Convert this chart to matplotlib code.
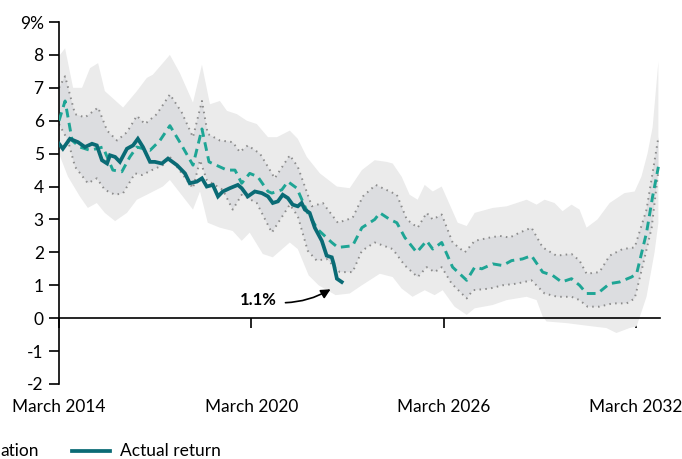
import matplotlib.pyplot as plt
from matplotlib.lines import Line2D
import numpy as np

plt.rcParams['font.family'] = ['Lato', 'DejaVu Sans']

START = 2014 + 2 / 12  # March 2014

# years after March 2014 / return in %
outer_hi_t = [0, 0.03, 0.19, 0.44, 0.72, 0.97, 1.22, 1.43, 2.0, 2.43, 2.74, 2.93, 3.46, 3.77, 4.18, 4.46, 4.71,
              5.02, 5.24, 5.55, 5.86, 6.17, 6.52, 6.8, 7.2, 7.45, 7.73, 8.14, 8.67, 9.07, 9.45, 9.85, 10.22,
              10.41, 10.69, 10.94, 11.19, 11.41, 11.66, 11.94, 12.44, 12.72, 12.97, 13.53, 13.97, 14.28, 14.59,
              14.9, 15.15, 15.46, 15.71, 15.99, 16.24, 16.46, 16.8, 17.18, 17.64, 17.96, 18.17, 18.36, 18.52, 18.7]
outer_hi = [7.9, 8.0, 8.2, 7.0, 7.0, 7.6, 7.75, 6.9, 6.4, 6.9, 7.3, 7.4, 8.0, 7.45, 6.55, 7.7, 6.5,
            6.6, 6.3, 6.2, 6.0, 5.9, 5.5, 5.5, 5.7, 5.45, 4.9, 4.4, 4.0, 3.95, 4.5, 4.8, 4.75,
            4.7, 4.3, 3.75, 3.6, 4.05, 3.85, 4.0, 2.9, 2.8, 3.2, 3.35, 3.4, 3.5, 3.6,
            3.45, 3.6, 3.5, 3.25, 3.45, 3.3, 2.75, 3.0, 3.5, 3.8, 3.85, 4.3, 5.0, 5.8, 7.8]

outer_lo_t = [0, 0.28, 0.65, 0.9, 1.18, 1.43, 1.75, 2.12, 2.43, 2.74, 3.24, 3.46, 4.18, 4.4, 4.64, 5.02, 5.42,
              5.7, 5.95, 6.36, 6.67, 7.2, 7.45, 7.79, 8.1, 8.63, 9.07, 9.45, 9.85, 10.01, 10.41, 10.69, 11.03,
              11.41, 11.72, 11.97, 12.34, 12.72, 12.97, 13.53, 13.97, 14.59, 14.9, 15.09, 15.21, 15.84, 16.24,
              16.65, 17.08, 17.39, 17.8, 18.02, 18.33, 18.58, 18.7]
outer_lo = [5.0, 4.3, 3.7, 3.35, 3.5, 3.2, 2.95, 3.2, 3.6, 3.75, 4.0, 4.2, 3.3, 3.85, 2.9, 2.75, 2.65,
            2.35, 2.6, 1.95, 1.85, 2.3, 2.1, 1.3, 1.0, 0.7, 0.75, 1.0, 1.25, 1.35, 1.25, 0.9, 0.65,
            0.85, 0.7, 0.85, 0.35, 0.1, 0.3, 0.4, 0.55, 0.65, 0.55, 0.05, -0.1, -0.15, -0.2,
            -0.25, -0.3, -0.45, -0.3, -0.25, 0.65, 2.0, 2.9]

inner_hi_t = [0, 0.19, 0.5, 0.81, 1.22, 1.5, 1.81, 2.12, 2.43, 2.68, 3.05, 3.46, 3.83, 4.18, 4.46, 4.64, 5.02,
              5.42, 5.64, 5.89, 6.27, 6.58, 6.73, 7.2, 7.45, 7.89, 8.23, 8.7, 9.16, 9.48, 9.88, 10.32, 10.54,
              10.85, 11.19, 11.47, 11.66, 11.94, 12.28, 12.66, 12.97, 13.44, 13.75, 14.06, 14.37, 14.74, 15.09,
              15.52, 15.99, 16.24, 16.46, 16.86, 17.18, 17.58, 17.96, 18.33, 18.55, 18.7]
inner_hi = [7.0, 7.35, 6.2, 6.1, 6.4, 5.7, 5.4, 5.65, 6.15, 5.9, 6.2, 6.8, 6.25, 5.5, 6.6, 5.6, 5.4,
            5.35, 5.05, 5.25, 5.0, 4.5, 4.25, 4.95, 4.6, 3.4, 3.5, 2.9, 3.05, 3.7, 4.05, 3.85, 3.75,
            3.0, 2.75, 3.2, 3.0, 3.15, 2.3, 2.0, 2.35, 2.45, 2.5, 2.45, 2.6, 2.75, 2.15,
            1.9, 1.95, 1.75, 1.35, 1.4, 1.9, 2.1, 2.15, 3.3, 4.6, 5.5]

inner_lo_t = [0, 0.28, 0.5, 0.9, 1.18, 1.43, 1.75, 2.0, 2.37, 2.59, 2.9, 3.24, 3.46, 3.83, 4.18, 4.4, 4.61,
              5.11, 5.42, 5.7, 6.17, 6.64, 7.2, 7.45, 7.76, 8.04, 8.35, 8.76, 9.16, 9.45, 9.85, 10.41, 10.79,
              11.19, 11.47, 11.72, 11.94, 12.25, 12.72, 12.91, 13.44, 13.84, 14.28, 14.74, 15.15, 15.55, 15.99,
              16.24, 16.49, 16.86, 17.27, 17.71, 17.96, 18.2, 18.49, 18.7]
inner_lo = [5.9, 5.4, 4.6, 4.1, 4.25, 3.9, 3.75, 3.8, 4.4, 4.35, 4.5, 4.65, 4.9, 4.4, 3.95, 4.8, 4.2,
            3.9, 3.3, 3.75, 3.5, 2.6, 3.45, 3.1, 2.05, 1.75, 1.8, 1.4, 1.4, 2.05, 2.3, 2.1, 1.6,
            1.25, 1.55, 1.4, 1.55, 1.05, 0.6, 0.85, 0.9, 1.0, 1.05, 1.15, 0.75, 0.65, 0.65,
            0.55, 0.35, 0.35, 0.45, 0.45, 0.6, 1.55, 2.75, 4.5]

median_t = [0, 0.19, 0.41, 0.65, 0.97, 1.37, 1.68, 1.96, 2.21, 2.43, 2.84, 3.15, 3.46, 3.8, 4.18, 4.46, 4.68,
            5.24, 5.49, 5.7, 5.95, 6.2, 6.52, 6.64, 6.95, 7.14, 7.42, 7.76, 8.07, 8.51, 8.7, 9.16, 9.45,
            9.85, 10.01, 10.32, 10.54, 10.79, 11.16, 11.47, 11.66, 11.94, 12.28, 12.72, 12.97, 13.19, 13.53,
            13.84, 14.12, 14.46, 14.74, 15.09, 15.4, 15.68, 15.99, 16.24, 16.46, 16.8, 17.18, 17.49, 17.86,
            18.02, 18.33, 18.52, 18.7]
median = [6.0, 6.6, 5.4, 5.2, 5.1, 5.2, 4.5, 4.45, 4.9, 5.2, 5.1, 5.4, 5.85, 5.3, 4.65, 5.75, 4.75,
          4.5, 4.5, 4.1, 4.4, 4.3, 3.85, 3.8, 3.9, 4.15, 3.95, 3.2, 2.7, 2.3, 2.15, 2.2, 2.75,
          3.0, 3.2, 3.0, 2.9, 2.45, 2.0, 2.35, 2.1, 2.3, 1.55, 1.15, 1.55, 1.5, 1.65,
          1.6, 1.75, 1.8, 1.9, 1.4, 1.3, 1.1, 1.2, 1.0, 0.75, 0.75, 1.05, 1.1, 1.25,
          1.35, 2.6, 3.7, 4.6]

actual_t = [0, 0.12, 0.34, 0.59, 0.81, 1.03, 1.18, 1.34, 1.5, 1.59, 1.75, 1.9, 2.12, 2.31, 2.46, 2.62, 2.84,
            2.99, 3.21, 3.4, 3.68, 3.93, 4.08, 4.3, 4.46, 4.61, 4.8, 4.96, 5.11, 5.33, 5.58, 5.7, 5.89,
            6.11, 6.33, 6.52, 6.67, 6.83, 6.98, 7.14, 7.29, 7.45, 7.57, 7.67, 7.82, 7.98, 8.2, 8.35, 8.51,
            8.57, 8.67, 8.82]
actual = [5.3, 5.15, 5.45, 5.35, 5.2, 5.3, 5.25, 4.8, 4.7, 4.95, 4.9, 4.75, 5.15, 5.25, 5.45, 5.2, 4.75,
          4.75, 4.7, 4.85, 4.65, 4.4, 4.1, 4.15, 4.25, 4.0, 4.05, 3.7, 3.85, 3.95, 4.05, 3.95, 3.7,
          3.85, 3.8, 3.7, 3.5, 3.55, 3.75, 3.65, 3.45, 3.4, 3.5, 3.3, 3.2, 2.75, 2.35, 1.9, 1.85,
          1.65, 1.2, 1.1]

tick_years = [2014, 2020, 2026, 2032]
tick_labels = ['March 2014', 'March 2020', 'March 2026', 'March 2032']
y_ticks = list(range(-2, 10))
y_labels = [str(v) for v in y_ticks[:-1]] + ['9%']

OUTER = '#ebebeb'
INNER = '#dcdde0'
DOTS = '#8c8c8c'
MEDIAN = '#1ea595'
ACTUAL = '#0a6b75'

fig = plt.figure(figsize=(6.82, 4.59), dpi=100)
ax = fig.add_axes([59 / 682, 1 - 384 / 459, 601 / 682, 362 / 459])

to_year = lambda t: START + np.asarray(t)

ax.fill(np.r_[to_year(outer_hi_t), to_year(outer_lo_t)[::-1]], np.r_[outer_hi, outer_lo[::-1]],
        color=OUTER, lw=0, zorder=1)
ax.fill(np.r_[to_year(inner_hi_t), to_year(inner_lo_t)[::-1]], np.r_[inner_hi, inner_lo[::-1]],
        color=INNER, lw=0, zorder=1.2)
ax.plot(to_year(inner_hi_t), inner_hi, color=DOTS, lw=1.4, ls=(0, (0.8, 2.2)), zorder=2)
ax.plot(to_year(inner_lo_t), inner_lo, color=DOTS, lw=1.4, ls=(0, (0.8, 2.2)), zorder=2)
ax.plot(to_year(median_t), median, color=MEDIAN, lw=2.1, dashes=(3.0, 1.9), zorder=3)
ax.plot(to_year(actual_t), actual, color=ACTUAL, lw=2.7, zorder=4, solid_joinstyle='miter')

ax.annotate('1.1%', xy=(START + 8.51, 0.9), xytext=(START + 6.23, 0.55),
            fontsize=12, fontweight='bold', ha='center', va='center',
            arrowprops=dict(arrowstyle='-|>', color='black', lw=1.2, mutation_scale=14,
                            connectionstyle='arc3,rad=0.2', shrinkA=4, shrinkB=1))

ax.set_xlim(START, START + 18.75)
ax.set_ylim(-2, 9)
ax.set_axisbelow(True)
for s in ['top', 'right']:
    ax.spines[s].set_visible(False)
ax.spines['bottom'].set_position(('data', 0))
ax.spines['bottom'].set_linewidth(1.2)
ax.spines['left'].set_linewidth(1.2)

ax.set_yticks(y_ticks)
ax.set_yticklabels(y_labels)
ax.set_xticks([START + (y - 2014) for y in tick_years])
ax.set_xticklabels(tick_labels)
ax.tick_params(axis='y', length=7.5, width=1.2, pad=3.5, labelsize=12.5)
ax.tick_params(axis='x', length=7.5, width=1.2, pad=50.5, labelsize=12.4)

# legend row (cropped on the left in the original)
fig.text(0, 1 - 451 / 459, 'ation', fontsize=12.5, va='center', ha='left')
fig.add_artist(Line2D([72 / 682, 110 / 682], [1 - 451 / 459] * 2, color=ACTUAL, lw=2.7))
fig.text(120 / 682, 1 - 451 / 459, 'Actual return', fontsize=12.5, va='center', ha='left')

fig.savefig('out.png', dpi=100)
